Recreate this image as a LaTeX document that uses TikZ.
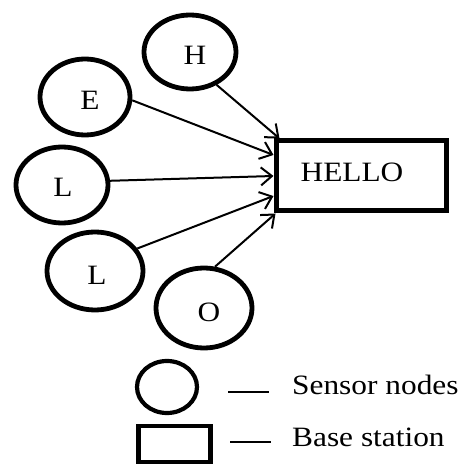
\documentclass[tikz,border=0pt]{standalone}
\usepackage{fontspec}
\setmainfont[FakeStretch=1.12]{Liberation Serif}
\usetikzlibrary{shapes.geometric,arrows.meta}
\begin{document}
\begin{tikzpicture}[x=1pt,y=1pt,
  sensor/.style={ellipse,draw,line width=4.8pt,inner sep=0pt},
  lbl/.style={font=\fontsize{28}{30}\selectfont},
  conn/.style={line width=2pt,-{Straight Barb[length=11pt,width=18pt,line width=2pt]}},
  legline/.style={line width=2.4pt}]
\useasboundingbox (0,0) rectangle (462,464);
\node[sensor,minimum width=92pt,minimum height=74pt] (H) at (190,412) {};
\node[lbl] at (195,409) {H};
\node[sensor,minimum width=90pt,minimum height=76pt] (E) at (85,367) {};
\node[lbl] at (90,364) {E};
\node[sensor,minimum width=92pt,minimum height=76pt] (L1) at (62,279) {};
\node[lbl] at (63,277) {L};
\node[sensor,minimum width=96pt,minimum height=78pt] (L2) at (95,193) {};
\node[lbl] at (97,189) {L};
\node[sensor,minimum width=96pt,minimum height=80pt] (O) at (204,156) {};
\node[lbl] at (209,152) {O};
\node[draw,line width=5pt,minimum width=170pt,minimum height=70pt,inner sep=0pt] (hello) at (361,288) {};
\node[lbl] at (352,292) {HELLO};
\draw[conn] (H.-51) -- ([xshift=6pt]hello.north west);
\draw[conn] (E.-4) -- ([yshift=21pt]hello.west);
\draw[conn] (L1.5) -- (hello.west);
\draw[conn] (L2.28) -- ([yshift=-20pt]hello.west);
\draw[conn] (O.75) -- ([xshift=2pt]hello.south west);
% legend
\node[sensor,line width=4.2pt,minimum width=60pt,minimum height=52pt] (legS) at (167,77) {};
\node[lbl,anchor=west,inner sep=0pt] (legStext) at (292,79) {Sensor nodes};
\coordinate (a1) at (228,72); \coordinate (a2) at (269,72);
\draw[legline] (a1) -- (a2);
\node[draw,line width=4.2pt,minimum width=72pt,minimum height=36pt,inner sep=0pt] (legB) at (174.5,20) {};
\node[lbl,anchor=west,inner sep=0pt] (legBtext) at (292,27) {Base station};
\coordinate (b1) at (230,22); \coordinate (b2) at (271,22);
\draw[legline] (b1) -- (b2);
\end{tikzpicture}
\end{document}
